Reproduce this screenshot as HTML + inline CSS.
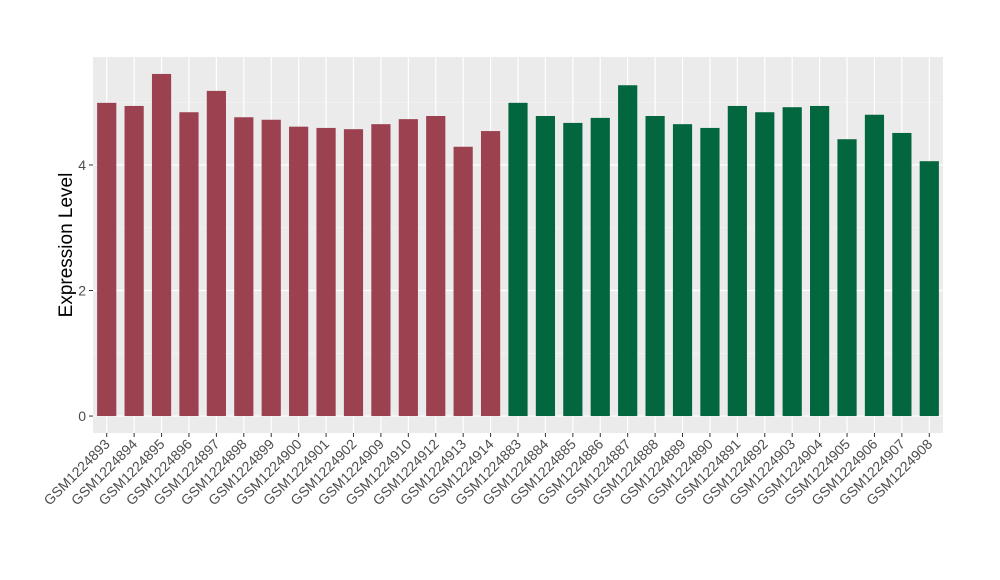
<!DOCTYPE html>
<html><head><meta charset="utf-8"><style>body{margin:0;background:#fff}svg{display:block;font-family:"Liberation Sans",sans-serif}</style></head>
<body>
<svg id="chart" width="1000" height="580"></svg>
<script>
const categories=["GSM1224893","GSM1224894","GSM1224895","GSM1224896","GSM1224897","GSM1224898","GSM1224899","GSM1224900","GSM1224901","GSM1224902","GSM1224909","GSM1224910","GSM1224912","GSM1224913","GSM1224914","GSM1224883","GSM1224884","GSM1224885","GSM1224886","GSM1224887","GSM1224888","GSM1224889","GSM1224890","GSM1224891","GSM1224892","GSM1224903","GSM1224904","GSM1224905","GSM1224906","GSM1224907","GSM1224908"];
const values=[4.99,4.94,5.45,4.84,5.18,4.76,4.72,4.61,4.59,4.57,4.65,4.73,4.78,4.29,4.54,4.99,4.78,4.67,4.75,5.27,4.78,4.65,4.59,4.94,4.84,4.92,4.94,4.41,4.80,4.51,4.06];
const groups=[0,0,0,0,0,0,0,0,0,0,0,0,0,0,0,1,1,1,1,1,1,1,1,1,1,1,1,1,1,1,1];
const yTicks=[0,2,4];
const colors=["#9b4150","#02663f"];
const NS="http://www.w3.org/2000/svg";
const svg=document.getElementById("chart");
const L=93,R=943,T=57,B=433,yMin=-0.27,yMax=5.72;
const y=v=>B-(v-yMin)/(yMax-yMin)*(B-T);
const step=(R-L)/categories.length;
const x=i=>L+step*(i+0.5);
function mk(tag,attrs){const e=document.createElementNS(NS,tag);for(const k in attrs)e.setAttribute(k,attrs[k]);svg.appendChild(e);return e;}
let e=mk("rect",{x:L,y:T,width:R-L,height:B-T,fill:"#ebebeb"});


for(let k=0;k<yTicks.length;k++){const t=yTicks[k];
 if(k<yTicks.length-1){const m=(t+yTicks[k+1])/2;const g=mk("line",{x1:L,x2:R,y1:y(m),y2:y(m),stroke:"#f5f5f5","stroke-width":0.6});
 
 }
 const g2=mk("line",{x1:L,x2:R,y1:y(t),y2:y(t),stroke:"#fff","stroke-width":1.2});
 
 
 const tk=mk("line",{x1:L-4,x2:L,y1:y(t),y2:y(t),stroke:"#333"});
 
 
 const lb=mk("text",{x:L-7,y:y(t)+5,"text-anchor":"end","font-size":14,fill:"#4d4d4d"});lb.textContent=t;
 
 }
{const m=(yTicks[yTicks.length-1]+6)/2;const g=mk("line",{x1:L,x2:R,y1:y(5),y2:y(5),stroke:"#f5f5f5","stroke-width":0.6});}
categories.forEach((c,i)=>{
 const g=mk("line",{x1:x(i),x2:x(i),y1:T,y2:B,stroke:"#fff","stroke-width":1.2});
 
 
});
categories.forEach((c,i)=>{
 const bw=step*0.7;
 const b=mk("rect",{x:x(i)-bw/2,y:y(values[i]),width:bw,height:y(0)-y(values[i]),fill:colors[groups[i]]});
 
 
 const tk=mk("line",{x1:x(i),x2:x(i),y1:B,y2:B+4,stroke:"#333"});
 
 
 const lb=mk("text",{x:x(i)+4,y:B+12,"text-anchor":"end","font-size":14,fill:"#4d4d4d",transform:`rotate(-45 ${x(i)+4} ${B+12})`});
 lb.textContent=c;
 
 
});
const yt=mk("text",{x:72,y:(T+B)/2,"text-anchor":"middle","font-size":19,fill:"#000",transform:`rotate(-90 72 ${(T+B)/2})`});
yt.textContent="Expression Level";


</script>
</body></html>
